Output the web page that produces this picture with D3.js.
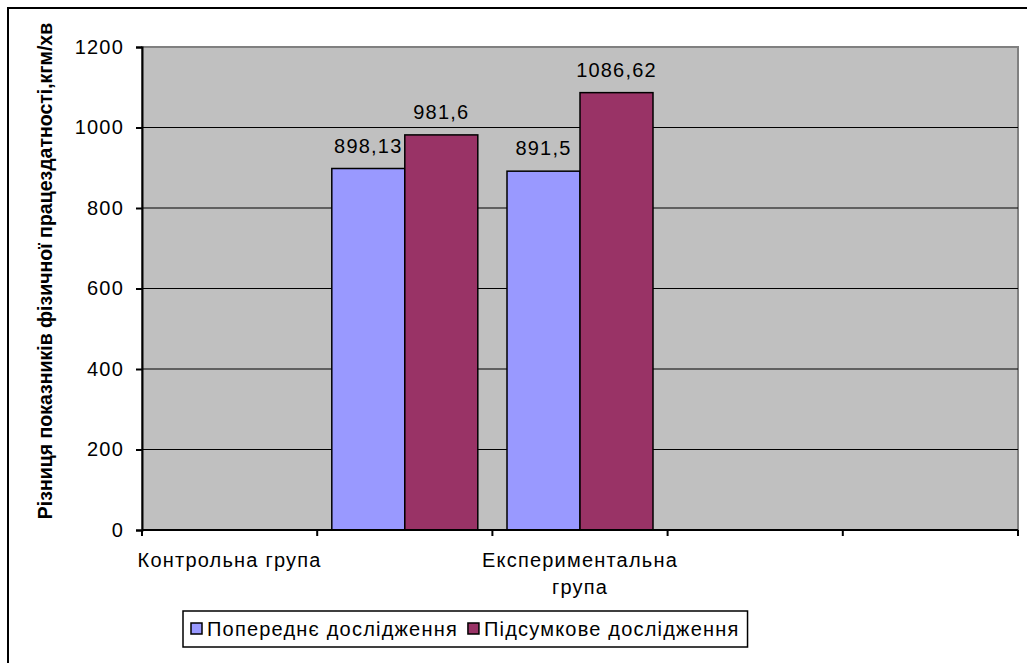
<!DOCTYPE html>
<html>
<head>
<meta charset="utf-8">
<script src="https://cdn.jsdelivr.net/npm/d3@7"></script>
<style>
  html, body { margin: 0; padding: 0; background: #fff; }
  svg { display: block; }
  text { font-family: "Liberation Sans", Arial, sans-serif; }
</style>
</head>
<body>
<svg id="chart" width="1027" height="663"></svg>
<script>
// ---- data ----
const categories = ["Контрольна група", "", "Експериментальна група", "", ""];
const seriesNames = ["Попереднє дослідження", "Підсумкове дослідження"];
const preValues  = [null, 898.13, 891.5, null, null];
const postValues = [null, 981.6, 1086.62, null, null];
const valueLabels = [["", "898,13", "891,5", "", ""], ["", "981,6", "1086,62", "", ""]];
const yTicks = [0, 200, 400, 600, 800, 1000, 1200];
const yTitle = "Різниця показників фізичної працездатності,кгм/хв";
const colors = ["#9999FF", "#993366"];

// ---- layout ----
const svg = d3.select("#chart");
const L = 142, R = 1018, T = 47, B = 530;
const LS = "1.2px"; // letter spacing

svg.append("rect").attr("width", 1027).attr("height", 663).attr("fill", "#fff");
// outer chart border
svg.append("rect").attr("x", 8).attr("y", 8).attr("width", 1040).attr("height", 680)
  .attr("fill", "none").attr("stroke", "#000").attr("stroke-width", 2);

const x0 = d3.scaleBand().domain(d3.range(categories.length)).range([L, R]).padding(0);
const x1 = d3.scaleBand().domain([0, 1]).range([0, x0.bandwidth()]).paddingInner(0).paddingOuter(0.2);
const y = d3.scaleLinear().domain([0, 1200]).range([B, T]);

// plot area
svg.append("rect").attr("x", L).attr("y", T).attr("width", R - L).attr("height", B - T)
  .attr("fill", "#C0C0C0").attr("stroke", "#808080").attr("stroke-width", 2);

// gridlines
svg.append("g").selectAll("line").data(yTicks.filter(v => v > 0 && v < 1200)).join("line")
  .attr("x1", L).attr("x2", R).attr("y1", d => y(d)).attr("y2", d => y(d))
  .attr("stroke", "#000").attr("stroke-width", 1.2);

// bars
const seriesVals = [preValues, postValues];
seriesVals.forEach((vals, s) => {
  svg.append("g").selectAll("rect").data(vals.map((v, i) => ({v, i})).filter(d => d.v != null)).join("rect")
    .attr("x", d => x0(d.i) + x1(s))
    .attr("y", d => y(d.v))
    .attr("width", x1.bandwidth())
    .attr("height", d => y(0) - y(d.v))
    .attr("fill", colors[s]).attr("stroke", "#000").attr("stroke-width", 1.5);
  svg.append("g").selectAll("text").data(vals.map((v, i) => ({v, i})).filter(d => d.v != null)).join("text")
    .attr("x", d => x0(d.i) + x1(s) + x1.bandwidth() / 2)
    .attr("y", d => y(d.v) - 16)
    .attr("text-anchor", "middle").attr("font-size", 20).attr("fill", "#000")
    .style("letter-spacing", LS)
    .text(d => valueLabels[s][d.i]);
});

// y axis
const yAxis = svg.append("g").attr("transform", `translate(${L},0)`)
  .call(d3.axisLeft(y).tickValues(yTicks).tickSize(6).tickPadding(12).tickFormat(d3.format("d")));
yAxis.select(".domain").attr("stroke", "#000").attr("stroke-width", 2);
yAxis.selectAll(".tick line").attr("stroke", "#000").attr("stroke-width", 2);
yAxis.selectAll(".tick text").attr("font-size", 20).attr("fill", "#000")
  .style("font-family", "'Liberation Sans', Arial, sans-serif").style("letter-spacing", LS);

// x axis line and ticks
const xg = svg.append("g");
xg.append("line").attr("x1", L).attr("x2", R).attr("y1", B).attr("y2", B)
  .attr("stroke", "#000").attr("stroke-width", 2);
const boundaries = d3.range(categories.length + 1).map(i => i < categories.length ? x0(i) : x0(categories.length - 1) + x0.bandwidth());
xg.selectAll("line.tk").data(boundaries).join("line").attr("class", "tk")
  .attr("x1", d => d).attr("x2", d => d).attr("y1", B).attr("y2", B + 6)
  .attr("stroke", "#000").attr("stroke-width", 2);

// category labels (wrap if wider than band)
categories.forEach((c, i) => {
  if (!c) return;
  const cx = x0(i) + x0.bandwidth() / 2;
  const t = xg.append("text").attr("x", cx).attr("y", 567).attr("text-anchor", "middle")
    .attr("font-size", 20).attr("fill", "#000").style("letter-spacing", LS).text(c);
  if (t.node().getComputedTextLength() > x0.bandwidth() + 14) {
    const words = c.split(" ");
    t.text(null);
    words.forEach((w, k) => {
      t.append("tspan").attr("x", cx).attr("dy", k === 0 ? 0 : 27).text(w);
    });
  }
});

// y title
svg.append("text")
  .attr("transform", `translate(52, 271) rotate(-90)`)
  .attr("text-anchor", "middle").attr("font-size", 19.5).attr("font-weight", "bold").attr("fill", "#000")
  .text(yTitle);

// legend
const lg = svg.append("g");
const lbox = lg.append("rect").attr("x", 183).attr("y", 611).attr("height", 36)
  .attr("fill", "#fff").attr("stroke", "#000").attr("stroke-width", 1.5);
let lx = 191;
seriesNames.forEach((n, i) => {
  lg.append("rect").attr("x", lx).attr("y", 623).attr("width", 11).attr("height", 11)
    .attr("fill", colors[i]).attr("stroke", "#000").attr("stroke-width", 1.5);
  const t = lg.append("text").attr("x", lx + 16).attr("y", 636).attr("font-size", 20).attr("fill", "#000")
    .style("letter-spacing", LS).text(n);
  lx = lx + 16 + t.node().getComputedTextLength() + 10;
});
lbox.attr("width", lx - 183 - 2);
</script>
</body>
</html>
